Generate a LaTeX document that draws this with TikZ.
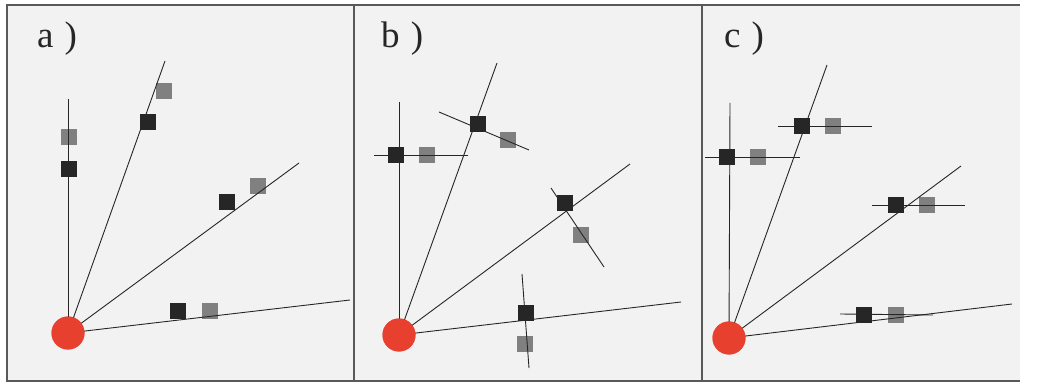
\documentclass[tikz,border=0pt]{standalone}
\usepackage{fontspec}
\setmainfont{Liberation Serif}
\begin{document}
\begin{tikzpicture}[x=1pt,y=-1pt,
  bsq/.style={rectangle,fill=black!85,minimum size=16pt,inner sep=0pt},
  gsq/.style={rectangle,fill=black!50,minimum size=16pt,inner sep=0pt},
  org/.style={circle,fill={rgb,255:red,232;green,64;blue,47},minimum size=33pt,inner sep=0pt},
  ray/.style={draw=black!85,line width=0.9pt},
  bar/.style={draw=black!85,line width=0.9pt},
  frame/.style={draw=black!65,line width=1.3pt},
  lab/.style={anchor=base west,inner sep=0pt,font=\fontsize{37}{42}\selectfont,text=black!85}]
\useasboundingbox (0,0) rectangle (1037,385);
\fill[white] (0,0) rectangle (1037,385);
\fill[black!5] (7,5) rectangle (1020,381);
% frame
\draw[frame] (1020,5) -- (7,5) -- (7,381) -- (1020,381);
\draw[frame] (354,5) -- (354,381);
\draw[frame] (702,5) -- (702,381);
% labels
\node[lab] (la) at (37,48) {a\hspace{0.3em})};
\node[lab] (lb) at (381,48) {b\hspace{0.3em})};
\node[lab] (lc) at (724,48) {c\hspace{0.3em})};

% ---------- panel a ----------
\coordinate (a1) at (68,99);
\coordinate (a2) at (165,61);
\coordinate (a3) at (299,163);
\coordinate (a4) at (350,300);
\node[gsq] (ag1) at (69,137) {};
\node[gsq] (ag2) at (164,91) {};
\node[gsq] (ag3) at (258,186) {};
\node[gsq] (ag4) at (210,311) {};
\node[org] (ao) at (68,333) {};
\draw[ray] (ao.center) -- (a1);
\draw[ray] (ao.center) -- (a2);
\draw[ray] (ao.center) -- (a3);
\draw[ray] (ao.center) -- (a4);
\node[bsq] (ab1) at (69,169) {};
\node[bsq] (ab2) at (148,122) {};
\node[bsq] (ab3) at (227,202) {};
\node[bsq] (ab4) at (178,311) {};
\node[org] at (ao) {};

% ---------- panel b ----------
\coordinate (b1) at (399,102);
\coordinate (b2) at (497,63);
\coordinate (b3) at (630,164);
\coordinate (b4) at (681,302);
\coordinate (b1s) at (374,155); \coordinate (b1e) at (468,155);
\coordinate (b2s) at (439,112); \coordinate (b2e) at (529,150);
\coordinate (b3s) at (551,188); \coordinate (b3e) at (604,267);
\coordinate (b4s) at (522,274); \coordinate (b4e) at (529,368);
\node[gsq] (bg1) at (427,155) {};
\node[gsq] (bg2) at (508,140) {};
\node[gsq] (bg3) at (581,235) {};
\node[gsq] (bg4) at (525,344) {};
\node[org] (bo) at (399,335) {};
\draw[ray] (bo.center) -- (b1);
\draw[ray] (bo.center) -- (b2);
\draw[ray] (bo.center) -- (b3);
\draw[ray] (bo.center) -- (b4);
\draw[bar] (b1s) -- (b1e);
\draw[bar] (b2s) -- (b2e);
\draw[bar] (b3s) -- (b3e);
\draw[bar] (b4s) -- (b4e);
\node[bsq] (bb1) at (396,155) {};
\node[bsq] (bb2) at (478,124) {};
\node[bsq] (bb3) at (565,203) {};
\node[bsq] (bb4) at (526,313) {};
\node[org] at (bo) {};

% ---------- panel c ----------
\coordinate (c1) at (730,103);
\coordinate (c2) at (827,65);
\coordinate (c3) at (961,166);
\coordinate (c4) at (1012,304);
\coordinate (c1s) at (705,157); \coordinate (c1e) at (800,157);
\coordinate (c2s) at (778,126); \coordinate (c2e) at (872,126);
\coordinate (c3s) at (872,205); \coordinate (c3e) at (965,205);
\coordinate (c4s) at (840,314); \coordinate (c4e) at (933,315);
\node[gsq] (cg1) at (758,157) {};
\node[gsq] (cg2) at (833,126) {};
\node[gsq] (cg3) at (927,205) {};
\node[gsq] (cg4) at (896,315) {};
\node[org] (co) at (729,338) {};
\draw[ray] (co.center) -- (c1);
\draw[ray] (co.center) -- (c2);
\draw[ray] (co.center) -- (c3);
\draw[ray] (co.center) -- (c4);
\draw[bar] (c1s) -- (c1e);
\draw[bar] (c2s) -- (c2e);
\draw[bar] (c3s) -- (c3e);
\draw[bar] (c4s) -- (c4e);
\node[bsq] (cb1) at (727,157) {};
\node[bsq] (cb2) at (802,126) {};
\node[bsq] (cb3) at (896,205) {};
\node[bsq] (cb4) at (864,315) {};
\node[org] at (co) {};
\end{tikzpicture}
\end{document}
